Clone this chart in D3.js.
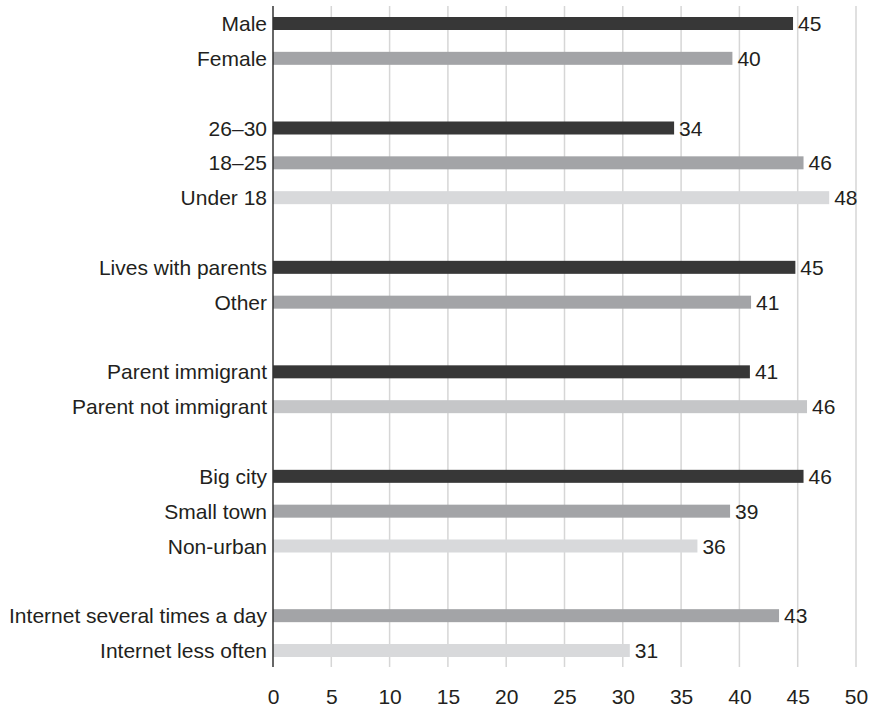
<!DOCTYPE html>
<html>
<head>
<meta charset="utf-8">
<script src="https://cdn.jsdelivr.net/npm/d3@7"></script>
<style>
  html, body { margin: 0; padding: 0; background: #fff; }
  svg { display: block; }
  text { font-family: "Liberation Sans", Arial, Helvetica, sans-serif; fill: #231f20; }
</style>
</head>
<body>
<svg id="chart" width="871" height="707"></svg>
<script>
// ---- data ----
const categories = [
  "Male", "Female",
  "26–30", "18–25", "Under 18",
  "Lives with parents", "Other",
  "Parent immigrant", "Parent not immigrant",
  "Big city", "Small town", "Non-urban",
  "Internet several times a day", "Internet less often"
];
// row position (blank rows separate the groups)
const slots = [0, 1, 3, 4, 5, 7, 8, 10, 11, 13, 14, 15, 17, 18];
const values = [44.6, 39.4, 34.4, 45.5, 47.7, 44.8, 41.0, 40.9, 45.8, 45.5, 39.2, 36.4, 43.4, 30.6];
const valueLabels = ["45", "40", "34", "46", "48", "45", "41", "41", "46", "46", "39", "36", "43", "31"];
const shades = ["dark", "mid", "dark", "mid", "light", "dark", "mid", "dark", "pale", "dark", "mid", "light", "mid", "light"];
const tickValues = [0, 5, 10, 15, 20, 25, 30, 35, 40, 45, 50];

const colors = { dark: "#373737", mid: "#a3a4a7", light: "#d8d9db", pale: "#c5c6c8" };

// ---- layout ----
const svg = d3.select("#chart");
const x = d3.scaleLinear().domain([0, 50]).range([273, 856]);
const y = d3.scaleLinear().domain([0, 18]).range([23.5, 650.5]);
const barH = 13;
const plotTop = 6, plotBottom = 667;
const fontSize = "21px";

// grid lines
svg.append("g").selectAll("line")
  .data(tickValues.filter(d => d > 0))
  .join("line")
  .attr("x1", d => x(d)).attr("x2", d => x(d))
  .attr("y1", plotTop).attr("y2", plotBottom)
  .attr("stroke", "#d6d6d6").attr("stroke-width", 1.5);

const rows = categories.map((c, i) => ({ c, slot: slots[i], v: values[i], lab: valueLabels[i], s: shades[i] }));

// bars
svg.append("g").selectAll("rect")
  .data(rows)
  .join("rect")
  .attr("x", x(0))
  .attr("y", d => y(d.slot) - barH / 2)
  .attr("width", d => x(d.v) - x(0))
  .attr("height", barH)
  .attr("fill", d => colors[d.s]);

// value labels
svg.append("g").selectAll("text")
  .data(rows)
  .join("text")
  .attr("x", d => x(d.v) + 5)
  .attr("y", d => y(d.slot))
  .attr("dy", "0.36em")
  .style("font-size", fontSize)
  .text(d => d.lab);

// category labels
svg.append("g").selectAll("text")
  .data(rows)
  .join("text")
  .attr("x", x(0) - 6)
  .attr("y", d => y(d.slot))
  .attr("dy", "0.36em")
  .attr("text-anchor", "end")
  .style("font-size", fontSize)
  .text(d => d.c);

// vertical axis line
svg.append("line")
  .attr("x1", x(0)).attr("x2", x(0))
  .attr("y1", plotTop).attr("y2", plotBottom)
  .attr("stroke", "#333").attr("stroke-width", 1.5);

// x-axis tick labels
const xAxis = d3.axisBottom(x).tickValues(tickValues).tickSize(0).tickPadding(0);
const gx = svg.append("g").attr("transform", `translate(0,${plotBottom})`).call(xAxis);
gx.select(".domain").remove();
gx.selectAll("text")
  .attr("y", 29.5)
  .attr("dy", "0.36em")
  .style("font-size", fontSize)
  .style("font-family", '"Liberation Sans", Arial, Helvetica, sans-serif')
  .attr("fill", "#231f20");
</script>
</body>
</html>
